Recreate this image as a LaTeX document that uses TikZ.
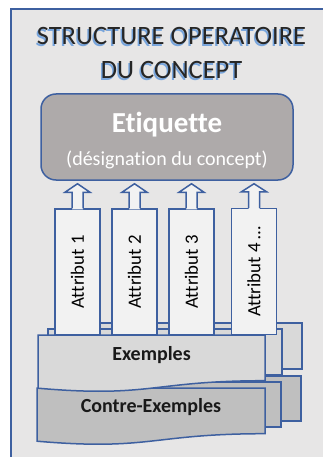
\documentclass[tikz,border=0pt]{standalone}
\usepackage{fontspec}
\setmainfont{Carlito}[Ligatures={NoCommon}]
\usetikzlibrary{calc}

\definecolor{framebg}{RGB}{231,230,230}
\definecolor{lineblue}{RGB}{62,96,160}
\definecolor{etiqgray}{RGB}{174,170,170}
\definecolor{exgray}{RGB}{217,217,217}
\definecolor{cexgray}{RGB}{191,191,191}
\definecolor{attrwhite}{RGB}{242,242,242}
\definecolor{titledark}{RGB}{38,38,38}
\definecolor{titleglow}{RGB}{120,165,220}

\tikzset{
  outline/.style={draw=lineblue, line width=1.5pt},
  titletext/.style={align=center, inner sep=0pt, font=\fontsize{26.5}{34}\selectfont},
  etiqbox/.style={outline, fill=etiqgray, rounded corners=15pt, minimum width=252pt,
    minimum height=86pt, text=white, align=center, font=\fontsize{20}{33}\selectfont},
  attrbox/.style={outline, fill=attrwhite, minimum width=45pt, minimum height=126pt,
    inner sep=0pt, font=\fontsize{18.8}{20}\selectfont},
  doctext/.style={font=\fontsize{20}{24}\selectfont\bfseries, text=black!90},
}

% fleche montante entre un attribut et l'etiquette
\newcommand{\attrarrow}[2]{%
  \fill[attrwhite] ($(#1.north)+(-5.5,1)$) -- ++(0,-17) -- ++(-7,0)
    -- ($(#1.north |- #2.south)+(0,3)$) -- ($(#1.north)+(12.5,-16)$)
    -- ++(-7,0) -- ++(0,17) -- cycle;
  \draw[outline] ($(#1.north)+(-5.5,0)$) -- ++(0,-16) -- ++(-7,0)
    -- ($(#1.north |- #2.south)+(0,3)$) -- ($(#1.north)+(12.5,-16)$)
    -- ++(-7,0) -- ++(0,16);
}

\begin{document}
\begin{tikzpicture}[x=1pt,y=-1pt]
  \path[use as bounding box, clip] (0,0) rectangle (323,457);
  \fill[white] (0,0) rectangle (323,457);
  \draw[outline, fill=framebg] (11,9) rectangle (340,470);

  % titre
  \node[titletext, text=titleglow] (titleglow) at (170,55) {STRUCTURE OPERATOIRE\\DU CONCEPT};
  \node[titletext, text=titledark] (title) at (171.5,53.5) {STRUCTURE OPERATOIRE\\DU CONCEPT};

  % etiquette
  \node[etiqbox] (etiq) at (167,137)
    {{\fontsize{29}{33}\selectfont\bfseries\rule{0pt}{27pt}Etiquette}\\(désignation du concept)};

  % contre-exemples
  \draw[outline, fill=cexgray] (58,376) rectangle (301,421);
  \draw[outline, fill=cexgray] (48,382) rectangle (281,427);
  \draw[outline, fill=cexgray] (37,388) -- (265,388) -- (265,433.7)
    .. controls (151,433.7) and (151,451) .. (37,441.2) -- cycle;
  \node[doctext] (cex) at (151,407) {Contre-Exemples};

  % exemples
  \draw[outline, fill=exgray] (58,323) rectangle (302,369);
  \draw[outline, fill=exgray] (48,329) rectangle (282,375);
  \draw[outline, fill=exgray] (38,335) -- (265,335) -- (265,380.7)
    .. controls (151.5,380.7) and (151.5,398.1) .. (38,388.2) -- cycle;
  \node[doctext] (ex) at (151.5,355) {Exemples};

  % attributs
  \node[attrbox] (attr1) at (77.5,272) {\rotatebox{90}{Attribut 1}};
  \node[attrbox] (attr2) at (134.5,272) {\rotatebox{90}{Attribut 2}};
  \node[attrbox] (attr3) at (191.5,272) {\rotatebox{90}{Attribut 3}};
  \node[attrbox] (attr4) at (254,271.5) {\rotatebox{90}{Attribut 4 …}};
  \foreach \a in {attr1,attr2,attr3,attr4}
    \attrarrow{\a}{etiq};
\end{tikzpicture}
\end{document}
